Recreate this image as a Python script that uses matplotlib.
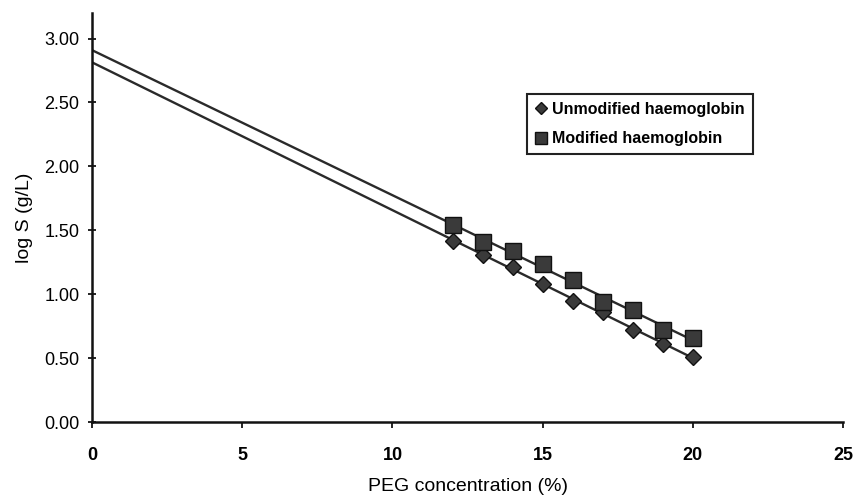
import numpy as np
import matplotlib
matplotlib.use('Agg')
import matplotlib.pyplot as plt

plt.rcParams['font.family'] = ['Liberation Sans', 'DejaVu Sans']

# PEG concentration (%)
peg = [12, 13, 14, 15, 16, 17, 18, 19, 20]
# log S (g/L)
unmodified = [1.42, 1.31, 1.21, 1.08, 0.95, 0.86, 0.72, 0.61, 0.51]
modified = [1.54, 1.41, 1.34, 1.24, 1.11, 0.94, 0.88, 0.72, 0.66]

xticks = [0, 5, 10, 15, 20, 25]
yticks = [0.0, 0.5, 1.0, 1.5, 2.0, 2.5, 3.0]

fig = plt.figure(figsize=(8.56, 4.98), dpi=100)
ax = fig.add_axes([0.1075, 0.1526, 0.8775, 0.8213])

# linear trend lines, extrapolated back to 0 % PEG
xfit = np.array([0, peg[-1]])
for ys in (unmodified, modified):
    slope, icpt = np.polyfit(peg, ys, 1)
    ax.plot(xfit, icpt + slope * xfit, c='#2a2a2a', lw=1.7, zorder=2)

ax.plot(peg, unmodified, ls='none', marker='D', ms=8, mfc='#3a3a3a', mec='#111111',
        mew=1.0, label='Unmodified haemoglobin', zorder=3)
ax.plot(peg, modified, ls='none', marker='s', ms=11, mfc='#3a3a3a', mec='#111111',
        mew=1.0, label='Modified haemoglobin', zorder=3)

ax.set_xlim(0, 25)
ax.set_ylim(0, 3.2)
ax.set_xticks(xticks)
ax.set_xticklabels([str(t) for t in xticks], fontsize=13, fontweight='bold')
ax.set_yticks(yticks)
ax.set_yticklabels(['%.2f' % t for t in yticks], fontsize=13)
ax.tick_params(axis='x', direction='out', length=4, width=1.2, pad=14)
ax.tick_params(axis='y', direction='inout', length=6, width=1.2, pad=6)

for s in ('top', 'right'):
    ax.spines[s].set_visible(False)
for s in ('left', 'bottom'):
    ax.spines[s].set_linewidth(1.8)
    ax.spines[s].set_color('#111111')

ax.set_xlabel('PEG concentration (%)', fontsize=14, labelpad=10)
ax.set_ylabel('log S (g/L)', fontsize=14, labelpad=8)

leg = ax.legend(loc='upper left', bbox_to_anchor=(0.568, 0.822), frameon=True,
                fancybox=False, edgecolor='#222222', framealpha=1,
                prop={'weight': 'bold', 'size': 11.5}, handlelength=0.8,
                handletextpad=0.3, borderpad=0.5, labelspacing=0.9, markerscale=0.75)
leg.get_frame().set_linewidth(1.5)

fig.savefig('out.png', dpi=100)
